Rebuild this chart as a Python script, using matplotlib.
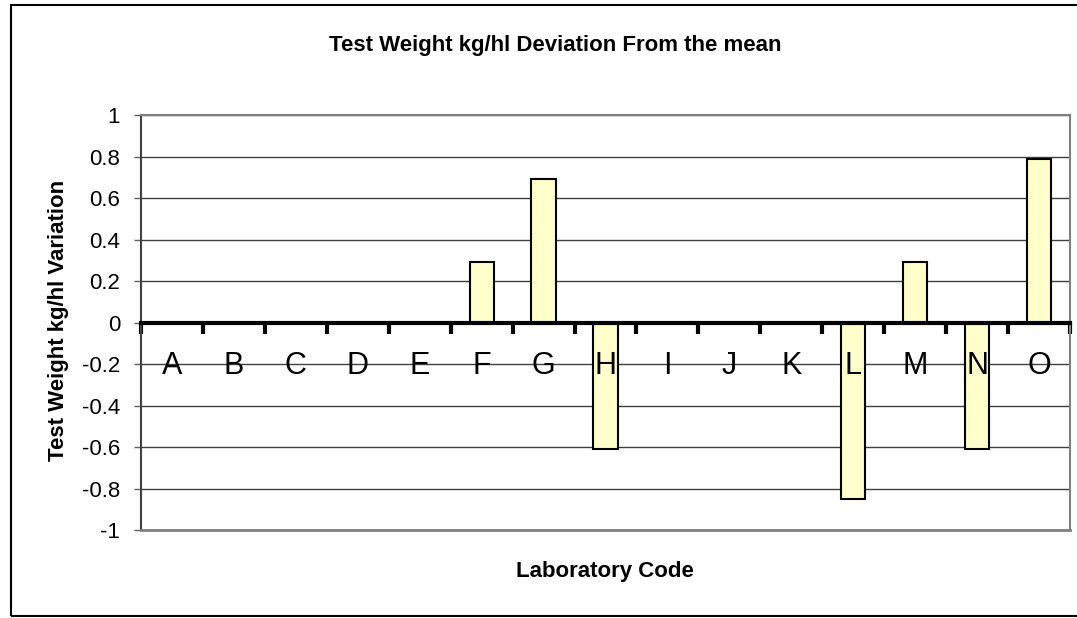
import numpy as np
import matplotlib
matplotlib.use("Agg")
import matplotlib.pyplot as plt
from matplotlib.patches import Rectangle

plt.rcParams['font.family'] = ['Liberation Sans', 'DejaVu Sans']

labs = list("ABCDEFGHIJKLMNO")
deviation = [0, 0, 0, 0, 0, 0.29, 0.69, -0.61, 0, 0, 0, -0.85, 0.29, -0.61, 0.79]
yticks = [-1, -0.8, -0.6, -0.4, -0.2, 0, 0.2, 0.4, 0.6, 0.8, 1]

W, H = 1077, 618
fig = plt.figure(figsize=(W / 100, H / 100), dpi=100)
ax = fig.add_axes([141 / W, 1 - 530 / H, (1070 - 141) / W, (530 - 115) / H])

x = np.arange(len(labs))
ax.bar(x, deviation, width=0.39, color="#FFFFCC", edgecolor="black",
       linewidth=1.5, zorder=3)

ax.set_xlim(-0.5, len(labs) - 0.5)
ax.set_ylim(-1, 1)
ax.set_yticks(yticks)
ax.set_yticklabels([f"{v:g}" for v in yticks], fontsize=16)
ax.yaxis.grid(True, color="#404040", linewidth=1)
ax.set_axisbelow(True)
ax.tick_params(axis="y", direction="out", length=5, width=1, color="#606060", pad=10)

# x axis sits on zero
ax.spines["bottom"].set_position(("data", 0))
ax.spines["bottom"].set_linewidth(3)
ax.spines["bottom"].set_zorder(4)
ax.set_xticks(np.arange(-0.5, len(labs), 1))
ax.set_xticklabels([])
ax.tick_params(axis="x", direction="out", length=8, width=3, color="black")
for s in ["top", "right"]:
    ax.spines[s].set_color("#808080")
    ax.spines[s].set_linewidth(1.5)
ax.spines["left"].set_color("#404040")
ax.spines["left"].set_linewidth(1.5)
ax.axhline(-1, color="#808080", linewidth=2, clip_on=False, zorder=4)

for xi, lab in zip(x, labs):
    ax.text(xi, -0.25, lab, ha="center", va="baseline", fontsize=22, zorder=5)

fig.text(555 / W, 1 - 45 / H, "Test Weight kg/hl Deviation From the mean",
         ha="center", va="center", fontsize=16, fontweight="bold")
fig.text(59 / W, 1 - 320 / H, "Test Weight kg/hl Variation", rotation=90,
         ha="center", va="center", fontsize=16, fontweight="bold")
fig.text(605 / W, 1 - 571 / H, "Laboratory Code",
         ha="center", va="center", fontsize=16, fontweight="bold")

fig.patches.append(Rectangle((11 / W, 1 - 616 / H), (1085 - 11) / W, (616 - 5) / H,
                             transform=fig.transFigure, fill=False,
                             edgecolor="black", linewidth=1.5))

fig.savefig("out.png", dpi=100)
